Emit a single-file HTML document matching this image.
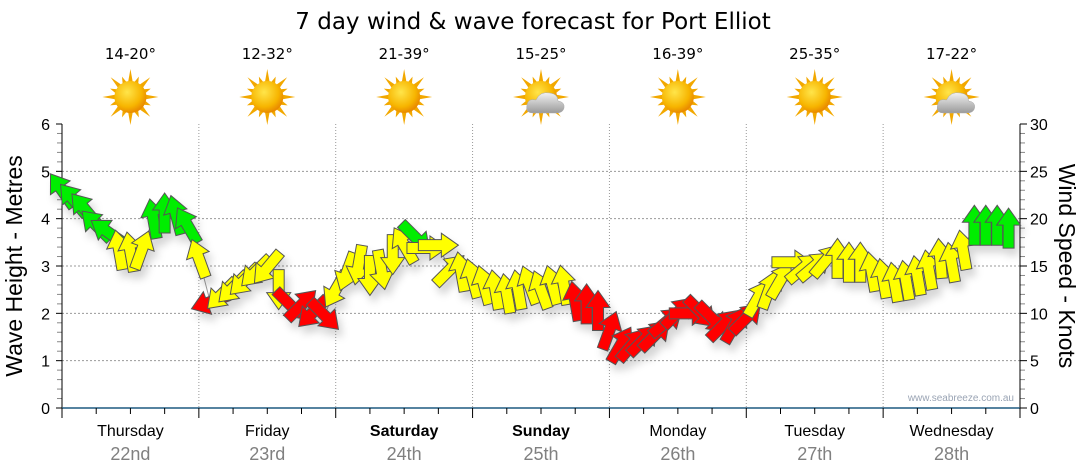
<!DOCTYPE html>
<html><head><meta charset="utf-8"><style>
body{margin:0;background:#fff;}
svg{display:block;font-family:"Liberation Sans","DejaVu Sans",sans-serif;}
</style></head><body>
<svg id="c" width="1080" height="475" viewBox="0 0 1080 475">
<defs>
<filter id="sh" x="-50%" y="-50%" width="200%" height="200%"><feDropShadow dx="4" dy="7" stdDeviation="4" flood-color="#000" flood-opacity="0.16"/></filter>
<radialGradient id="sun" cx="40%" cy="35%" r="65%"><stop offset="0" stop-color="#ffe54a"/><stop offset="0.7" stop-color="#f7b500"/><stop offset="1" stop-color="#e98a00"/></radialGradient>
<linearGradient id="cloud" x1="0" y1="0" x2="0" y2="1"><stop offset="0" stop-color="#f2f2f2"/><stop offset="1" stop-color="#9a9a9a"/></linearGradient>
</defs>
<text x="533" y="29" text-anchor="middle" font-size="23" font-family="DejaVu Sans, sans-serif" fill="#000">7 day wind &amp; wave forecast for Port Elliot</text>
<g id="grid"></g><g id="axes"></g><g id="header"></g><g id="marks"></g>
<text x="0" y="0" transform="translate(22,266) rotate(-90)" text-anchor="middle" font-size="23">Wave Height - Metres</text>
<text x="0" y="0" transform="translate(1059,266) rotate(90)" text-anchor="middle" font-size="23">Wind Speed - Knots</text>
<text x="1014" y="401" text-anchor="end" font-size="10" fill="#9aa4b4">www.seabreeze.com.au</text>
</svg>
<script>
const days = ["Thursday","Friday","Saturday","Sunday","Monday","Tuesday","Wednesday"];
const dates = ["22nd","23rd","24th","25th","26th","27th","28th"];
const boldDays = [false,false,true,true,false,false,false];
const temps = ["14-20°","12-32°","21-39°","15-25°","16-39°","25-35°","17-22°"];
const cloudy = [false,false,false,true,false,false,true];
const waveTicks = [0,1,2,3,4,5,6];
const windTicks = [0,5,10,15,20,25,30];
const windSpeed = [23,22,21,19.3,18.6,16.7,16.5,16.7,20,20.6,20.4,19.3,
15.8,11.2,12,12.7,13.5,14.4,14.8,12.5,10.9,10.9,10.1,9.8,
12.5,14.4,15.1,14,14.6,16.2,17.2,18,16.9,17.2,14.6,14.4,
13.7,13,12.5,12.1,12.5,13,12.5,13,13,11.3,11,10.3,
8.2,6.7,6.7,7.2,7.7,9.1,10.1,10,10.1,9.5,8.8,8.8,
9.5,11.6,12.5,13.5,15.4,14.8,15,15.6,15.8,15.4,15.4,14.4,
13.7,13.3,13.5,14,14.6,15.8,15.4,16.7,19.3,19.3,19.3,19];
const windDir = [-35,-40,-40,-45,-55,-10,-10,20,-10,0,-15,-30,
-20,250,225,225,225,225,220,180,135,45,225,135,
210,200,190,180,170,180,-30,135,90,90,45,-10,
-15,-15,-10,-10,-10,-20,-20,-15,-10,-10,0,0,
20,30,40,45,45,50,45,90,135,135,45,30,
45,30,20,30,90,50,50,40,0,0,0,-10,
-10,-10,-10,-10,-10,-5,-10,-10,0,0,0,0];

const NS="http://www.w3.org/2000/svg";
const X0=62,X1=1020,Y0=408,Y1=124;
const dayW=(X1-X0)/7;
const xHour=h=>X0+h/168*(X1-X0);
const yWave=m=>Y0-m/6*(Y0-Y1);
const yWind=k=>Y0-k/30*(Y0-Y1);
function mk(tag,attrs,parent){const e=document.createElementNS(NS,tag);for(const k in attrs)e.setAttribute(k,attrs[k]);parent.appendChild(e);return e;}
const grid=document.getElementById('grid'),axes=document.getElementById('axes'),header=document.getElementById('header'),marks=document.getElementById('marks');

waveTicks.forEach(v=>{
  const y=yWave(v);
  if(v>0&&v<6){const g=mk('line',{x1:X0,x2:X1,y1:y,y2:y,stroke:'#999','stroke-dasharray':'2,2','stroke-width':1},grid);
  
  }
  const t=mk('text',{x:50,y:y+6,'text-anchor':'end','font-size':16},axes);t.textContent=v;
  
  
  mk('line',{x1:X0-6,x2:X0,y1:y,y2:y,stroke:'#000'},axes);
  if(v<6)for(let k=1;k<5;k++){const yy=yWave(v+k*0.2);mk('line',{x1:X0-5,x2:X0,y1:yy,y2:yy,stroke:'#888'},axes);}
});
windTicks.forEach(v=>{
  const y=yWind(v);
  const t=mk('text',{x:1030,y:y+6,'font-size':16},axes);t.textContent=v;
  
  
  mk('line',{x1:X1,x2:X1+7,y1:y,y2:y,stroke:'#000'},axes);
  if(v<30)for(let k=1;k<5;k++){const yy=yWind(v+k);mk('line',{x1:X1,x2:X1+5,y1:yy,y2:yy,stroke:'#888'},axes);}
});
mk('line',{x1:X0,x2:X0,y1:Y1,y2:Y0,stroke:'#000'},axes);
mk('line',{x1:X1,x2:X1,y1:Y1,y2:Y0,stroke:'#000'},axes);
mk('line',{x1:X0,x2:X1,y1:Y0,y2:Y0,stroke:'#1f5a80','stroke-width':1.5},axes);
for(let q=0;q<=28;q++){const x=X0+q*dayW/4;mk('line',{x1:x,x2:x,y1:Y0,y2:Y0+(q%4==0?10:6),stroke:'#000'},axes);}

days.forEach((d,i)=>{
  const xs=X0+i*dayW,cx=xs+dayW/2;
  if(i>0){const g=mk('line',{x1:xs,x2:xs,y1:Y1,y2:Y0,stroke:'#999','stroke-dasharray':'1,2'},grid);
  
  }
  const t=mk('text',{x:cx,y:436,'text-anchor':'middle','font-size':16,'font-weight':boldDays[i]?'bold':'normal'},axes);t.textContent=d;
  
  
  const t2=mk('text',{x:cx,y:460,'text-anchor':'middle','font-size':18,fill:'#808080'},axes);t2.textContent=dates[i];
  
  
  const t3=mk('text',{x:cx,y:59,'text-anchor':'middle','font-size':15,'font-family':'DejaVu Sans, sans-serif'},header);t3.textContent=temps[i];
  
  
  const g=mk('g',{transform:`translate(${cx},97)`},header);
  
  
  for(let r=0;r<16;r++){const a=r*22.5,len=r%2?22:28;
    mk('polygon',{points:`-2.5,-14 2.5,-14 0,${-len}`,fill:'#f2a800',transform:`rotate(${a})`},g);}
  mk('circle',{r:16,fill:'url(#sun)'},g);
  if(cloudy[i]){mk('path',{d:'M-8,16 Q-16,16 -14,8 Q-13,1 -5,3 Q-1,-6 9,-4 Q17,-3 17,4 Q24,5 23,11 Q22,16 15,16 Z',fill:'url(#cloud)',stroke:'#aaa','stroke-width':0.5},g);}
});

let pts=windSpeed.map((v,i)=>`${xHour(i*2)},${yWind(v)}`).join(' ');
const ln=mk('polyline',{points:pts,fill:'none',stroke:'#999','stroke-width':1},marks);


const arrowPath='M0,-20 L12,-3 L5.5,-3 L5.5,20 L-5.5,20 L-5.5,-3 L-12,-3 Z';
const ag=mk('g',{filter:'url(#sh)'},marks);
windSpeed.forEach((v,i)=>{
  const col=v>=18?'#00ee00':(v<11.5?'#ff0000':'#ffff00');
  const a=mk('path',{d:arrowPath,fill:col,stroke:'#555','stroke-width':1,'stroke-linejoin':'miter',transform:`translate(${xHour(i*2)},${yWind(v)}) rotate(${windDir[i]})`},ag);
  
  
});
</script>
</body></html>
